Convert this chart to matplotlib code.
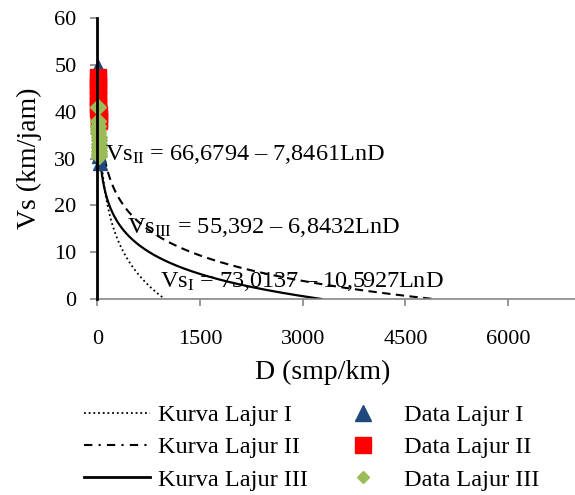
import numpy as np
import matplotlib.pyplot as plt
from matplotlib.lines import Line2D

plt.rcParams['font.family'] = ['Liberation Serif', 'DejaVu Serif']
plt.rcParams['mathtext.fontset'] = 'custom'
plt.rcParams['mathtext.rm'] = 'Liberation Serif'
plt.rcParams['mathtext.it'] = 'Liberation Serif:italic'

# Greenberg model coefficients: Vs = a - b*ln(D)
lanes = ['I', 'II', 'III']
coef_a = [73.0137, 66.6794, 55.392]
coef_b = [10.5927, 7.8461, 6.8432]
coef_txt = [('73,0137', '10,5927'), ('66,6794', '7,8461'), ('55,392', '6,8432')]

# observed points (density smp/km, speed km/jam)
d_lane1 = [6, 8, 10, 12, 14, 16, 18, 20, 24, 28, 32, 36]
vs_lane1 = [49.5, 47.5, 45.5, 43.5, 41.5, 39.5, 37.5, 35.5, 33.5, 32.0, 30.5, 29.0]
d_lane2 = [5, 7, 9, 11, 13, 15, 17, 19, 21, 23]
vs_lane2 = [47.5, 46.5, 45.5, 44.0, 43.0, 41.5, 40.5, 39.5, 38.5, 38.0]
d_lane3 = [8, 10, 12, 14, 16, 18, 20, 22, 24, 26, 28, 30]
vs_lane3 = [41.0, 38.0, 37.0, 36.0, 35.5, 34.5, 34.0, 33.0, 32.5, 31.5, 31.0, 30.5]

x_ticks = [0, 1500, 3000, 4500, 6000]
y_ticks = [0, 10, 20, 30, 40, 50, 60]

fig = plt.figure(figsize=(5.75, 4.95), dpi=100)
ax = fig.add_axes([97.3 / 575, 1 - 299 / 495, 479.3 / 575, 281 / 495])

styles = [dict(ls=(0, (1, 1.6)), lw=1.3), dict(ls=(0, (4, 2.6)), lw=1.5), dict(ls='-', lw=1.6)]
for a, b, st in zip(coef_a, coef_b, styles):
    d0 = np.exp((a - 30) / b)
    d1 = np.exp(a / b)
    d = np.linspace(d0, d1, 600)
    ax.plot(d, a - b * np.log(d), color='black', **st)

ax.plot(d_lane1, vs_lane1, '^', color='#1F497D', ms=10, ls='none', clip_on=False)
ax.plot(d_lane2, vs_lane2, 's', color='#FF0000', ms=11, ls='none', clip_on=False)
ax.plot(d_lane3, vs_lane3, 'D', color='#9BBB59', ms=8, ls='none', clip_on=False)

# equation labels
eq_pos = [(916, 3.7), (112, 30.8), (430, 15.2)]
for lane, (ta, tb), (x, y) in zip(lanes, coef_txt, eq_pos):
    ax.text(x, y, 'Vs$_{\\mathrm{' + lane + '}}$ = ' + ta + ' \u2013 ' + tb + 'LnD',
            fontsize=17.5, va='center', ha='left')

ax.set_xlim(0, 7000)
ax.set_ylim(0, 60)
ax.set_xticks(x_ticks)
ax.set_yticks(y_ticks)
ax.tick_params(axis='both', labelsize=16, color='#868686', direction='out', length=5, width=1.2)
ax.tick_params(axis='x', pad=17)
ax.tick_params(axis='y', pad=10)
for s in ['top', 'right']:
    ax.spines[s].set_visible(False)
ax.spines['bottom'].set_color('#868686')
ax.spines['bottom'].set_linewidth(1.2)
ax.spines['left'].set_color('black')
ax.spines['left'].set_linewidth(2)
ax.spines['left'].set_zorder(3)

ax.set_xlabel('D (smp/km)', fontsize=20)
ax.set_ylabel('Vs (km/jam)', fontsize=20)
ax.xaxis.set_label_coords((323 - 97.3) / 479.3, (299 - 360) / 281)
ax.yaxis.set_label_coords((42 - 97.3) / 479.3, 0.5)

handles = [
    Line2D([], [], color='black', ls=(0, (1, 1.6)), lw=1.3),
    Line2D([], [], color='black', ls=(0, (4, 3, 1, 3)), lw=1.5),
    Line2D([], [], color='black', ls='-', lw=2),
    Line2D([], [], marker='^', color='#1F497D', ms=12, ls='none'),
    Line2D([], [], marker='s', color='#FF0000', ms=11, ls='none'),
    Line2D([], [], marker='D', color='#9BBB59', ms=6, ls='none'),
]
labels = ['Kurva Lajur I', 'Kurva Lajur II', 'Kurva Lajur III',
          'Data Lajur I', 'Data Lajur II', 'Data Lajur III']
fig.legend(handles, labels, ncol=2, frameon=False, fontsize=17.5,
           loc='upper left', bbox_to_anchor=(84 / 575, 1 - 404 / 495),
           handlelength=2.71, handletextpad=0.33, columnspacing=0.93,
           labelspacing=0.43, borderaxespad=0, borderpad=0)

fig.savefig('out.png', dpi=100)
